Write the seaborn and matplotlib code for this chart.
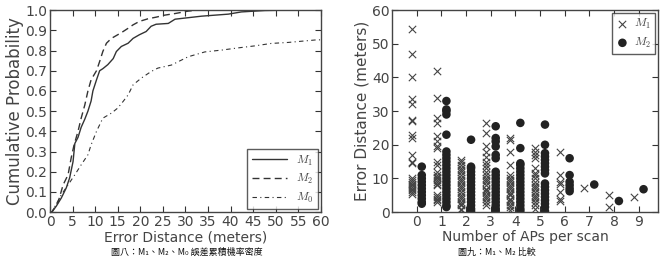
import numpy as np
import pandas as pd
import matplotlib
matplotlib.use('Agg')
import matplotlib.pyplot as plt
import seaborn as sns

# CDF curves (error distance in meters, cumulative probability)
m1_dist = [0, 0.4, 1.4, 2.5, 3.6, 4.35, 5.1, 5.5, 6.2, 6.9, 7.7, 8.4, 9.1, 9.5, 10.3, 11,
           11.7, 12.8, 14, 14.7, 15.8, 17.3, 18.4, 19.8, 21.3, 22.4, 23.5, 26.2, 27.7,
           33.6, 39.5, 42.4, 47.6, 52.8, 60]
m1_prob = [0, 0, 0.03, 0.07, 0.12, 0.17, 0.25, 0.34, 0.37, 0.42, 0.46, 0.50, 0.55, 0.60,
           0.655, 0.70, 0.71, 0.73, 0.76, 0.795, 0.82, 0.836, 0.86, 0.878, 0.894, 0.92,
           0.93, 0.934, 0.955, 0.97, 0.98, 0.991, 0.998, 1.0, 1.0]

m2_dist = [0, 0.4, 1.8, 2.9, 4, 4.7, 5.3, 6.2, 6.9, 7.7, 8.4, 9.1, 10.3, 11, 11.7, 12.5,
           13.6, 15, 16.2, 17.3, 18.4, 19.8, 21.7, 23.5, 25.4, 27.7, 30.6, 32.8, 60]
m2_prob = [0, 0, 0.05, 0.135, 0.185, 0.27, 0.33, 0.40, 0.465, 0.53, 0.60, 0.655, 0.70,
           0.746, 0.795, 0.836, 0.86, 0.878, 0.894, 0.91, 0.927, 0.944, 0.957, 0.965,
           0.975, 0.983, 0.995, 1.0, 1.0]

m0_dist = [0, 0.4, 2.5, 4, 5.5, 6.9, 8.4, 9.1, 10.3, 11.7, 13.6, 15, 16.2, 17.3, 18.4,
           20.2, 22.4, 23.9, 26.9, 30.6, 34.3, 38, 41.7, 45.4, 49, 52.8, 58.7, 60]
m0_prob = [0, 0, 0.086, 0.135, 0.185, 0.234, 0.284, 0.333, 0.40, 0.465, 0.49, 0.515,
           0.548, 0.58, 0.63, 0.663, 0.696, 0.713, 0.728, 0.769, 0.793, 0.802, 0.813,
           0.823, 0.835, 0.84, 0.852, 0.853]

# scatter panel: error distance per number of APs in a scan
ap_counts = list(range(10))
m1_err = [
    [54.5, 47, 40, 33.5, 32, 27.5, 27, 23, 22, 17, 15, 14.5, 10, 9.5, 9, 8.5, 8, 7.5, 7, 6.5, 6, 5.5],
    [42, 34, 28, 26.5, 22.5, 21, 19.5, 19, 15, 14, 12, 11, 10.5, 10, 9.5, 9, 8.5, 8, 5, 4.5, 4, 3.5, 3],
    [15.5, 15, 14, 13, 12.5, 12, 11, 10, 9.5, 9, 8, 7.5, 7, 6, 5, 4.5, 4, 3, 2.5, 2, 1, 0.5],
    [26.5, 23.5, 19.5, 18, 16.5, 15, 14, 13, 12, 11, 10, 9.5, 9, 8, 7, 6.5, 6, 5, 4.5, 4, 3, 2],
    [22, 21.5, 18, 14, 11, 10, 9.5, 9, 8, 7.5, 7, 6, 5.5, 5, 4, 3.5, 3, 2, 1.5, 0.5],
    [19, 18, 17, 16, 13, 11.5, 11, 10, 9, 8, 7.5, 7, 6, 5, 4.5, 4, 3, 2, 1],
    [18, 11, 9, 8.5, 6, 3.8, 3.3],
    [7.3],
    [5, 1.6],
    [4.6],
]
m2_err = [
    [13.5, 11, 10, 9, 8, 7, 6, 5, 4, 3, 2.5],
    [33, 30.5, 30, 29, 23, 18, 17, 16, 15, 14, 13, 12, 11, 10, 9, 8, 7, 6, 5, 4, 3, 2, 1.5],
    [21.5, 13.5, 13, 12, 11, 10, 9, 8, 7, 6, 5, 4, 3, 2, 1, 0.3],
    [25.5, 22, 21, 19.5, 17, 16, 12, 11, 10, 9, 8, 7, 6, 5, 4, 3, 2, 1, 0.3],
    [26.5, 19, 14.5, 14, 13, 12, 11, 10, 9, 8, 7, 6, 5, 4, 3, 2, 1, 0.3],
    [26, 20, 17.5, 16.5, 15.5, 14.5, 13.5, 12.5, 11.5, 8.5, 7.5, 6.5, 5.5, 4.5, 3.5, 2.5, 1.5, 0.3],
    [16, 11, 9, 8, 7, 6.2],
    [8.2],
    [3.3],
    [6.8],
]

sns.set_style('ticks')
plt.rcParams['font.family'] = ['DejaVu Sans', 'Noto Sans CJK TC']
plt.rcParams['mathtext.fontset'] = 'cm'
plt.rcParams['text.color'] = '#444444'
plt.rcParams['axes.labelcolor'] = '#444444'
plt.rcParams['xtick.color'] = '#333333'
plt.rcParams['ytick.color'] = '#333333'
plt.rcParams['xtick.labelcolor'] = '#444444'
plt.rcParams['ytick.labelcolor'] = '#444444'

fig = plt.figure(figsize=(6.67, 2.59), dpi=100)
ax1 = fig.add_axes([0.075, 0.181, 0.406, 0.780])
ax2 = fig.add_axes([0.588, 0.181, 0.399, 0.780])

# left: CDF curves
cdf = pd.concat([
    pd.DataFrame({'dist': m1_dist, 'prob': m1_prob, 'model': '$M_1$'}),
    pd.DataFrame({'dist': m2_dist, 'prob': m2_prob, 'model': '$M_2$'}),
    pd.DataFrame({'dist': m0_dist, 'prob': m0_prob, 'model': '$M_0$'}),
])
names = ['$M_1$', '$M_2$', '$M_0$']
dashes = {'$M_1$': None, '$M_2$': (5, 3), '$M_0$': (4, 3, 1, 3)}
for name, grp in cdf.groupby('model', sort=False):
    sns.lineplot(data=grp, x='dist', y='prob', ax=ax1, color='#333333',
                 linewidth=1.0, sort=False, label=name)
for line, name in zip(ax1.get_lines(), names):
    if dashes[name]:
        line.set_dashes(dashes[name])
    if name == '$M_0$':
        line.set_linewidth(0.8)

ax1.set_xlim(0, 60)
ax1.set_ylim(0, 1.0)
ax1.set_xticks(np.arange(0, 61, 5))
ax1.set_yticks(np.arange(0, 1.01, 0.1))
ax1.set_yticklabels([f'{v:.1f}' for v in np.arange(0, 1.01, 0.1)])
ax1.set_xlabel('Error Distance (meters)', fontsize=10, labelpad=1)
ax1.set_ylabel('Cumulative Probability', fontsize=12, labelpad=1)
leg1 = ax1.legend(loc='lower right', fontsize=8.5, frameon=True, fancybox=False,
                  handlelength=3.0, borderaxespad=0.25, labelspacing=0.4,
                  borderpad=0.35)
leg1.get_frame().set_edgecolor('#333333')
leg1.get_frame().set_linewidth(1.0)
for line, name in zip(leg1.get_lines(), names):
    if dashes[name]:
        line.set_dashes(dashes[name])

# right: scatter of error vs number of APs
rows = []
for n in ap_counts:
    for v in m1_err[n]:
        rows.append({'aps': n - 0.2, 'err': v, 'model': '$M_1$'})
    for v in m2_err[n]:
        rows.append({'aps': n + 0.2, 'err': v, 'model': '$M_2$'})
pts = pd.DataFrame(rows)
sns.scatterplot(data=pts[pts.model == '$M_1$'], x='aps', y='err', ax=ax2, marker='x',
                color='#444444', s=28, linewidth=0.8, label='$M_1$')
sns.scatterplot(data=pts[pts.model == '$M_2$'], x='aps', y='err', ax=ax2, marker='o',
                color='#222222', s=38, edgecolor='none', label='$M_2$')
ax2.set_xlim(-1, 9.8)
ax2.set_ylim(0, 60)
ax2.set_xticks(ap_counts)
ax2.set_yticks(range(0, 61, 10))
ax2.set_xlabel('Number of APs per scan', fontsize=10, labelpad=1)
ax2.set_ylabel('Error Distance (meters)', fontsize=11, labelpad=2)
leg2 = ax2.legend(loc='upper right', fontsize=8.5, frameon=True, fancybox=False,
                  handlelength=1.0, borderaxespad=0.25, labelspacing=0.4,
                  handletextpad=0.5, borderpad=0.35)
leg2.get_frame().set_edgecolor('#333333')
leg2.get_frame().set_linewidth(1.0)

for ax in (ax1, ax2):
    ax.tick_params(direction='in', top=True, right=True, length=4, width=0.8,
                   labelsize=10, pad=2)
    for sp in ax.spines.values():
        sp.set_color('#444444')
        sp.set_linewidth(1.0)

# captions under each panel
fig.text(0.28, 0.008, '圖八：M₁、M₂、M₀ 誤差累積機率密度', fontsize=6.5, ha='center',
         va='bottom', color='#111111', family=['Noto Sans CJK TC', 'DejaVu Sans'])
fig.text(0.745, 0.008, '圖九：M₁、M₂ 比較', fontsize=6.5, ha='center', va='bottom',
         color='#111111', family=['Noto Sans CJK TC', 'DejaVu Sans'])

fig.savefig('out.png', dpi=100)
